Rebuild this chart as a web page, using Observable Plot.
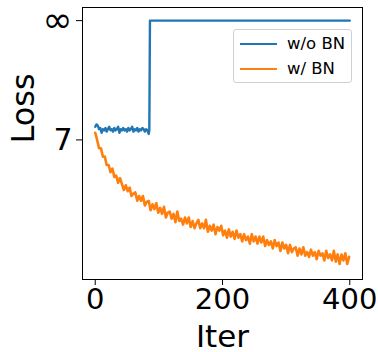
<!DOCTYPE html>
<html>
<head>
<meta charset="utf-8">
<script src="https://cdn.jsdelivr.net/npm/d3@7"></script>
<script src="https://cdn.jsdelivr.net/npm/@observablehq/plot@0.6"></script>
<style>
  html, body { margin: 0; padding: 0; background: #fff; }
  #wrap { position: relative; width: 378px; height: 352px; font-family: "DejaVu Sans", sans-serif; }
  #legend { position: absolute; left: 233px; top: 29px; width: 117px; height: 52px;
    border: 1px solid #d0d0d0; border-radius: 3px; background: rgba(255,255,255,0.85); }
  .item { position: absolute; left: 0; height: 20px; font-size: 16.5px; line-height: 20px; color: #000; }
  .swatch { position: absolute; left: 6px; width: 37px; height: 2px; top: 9px; }
  .lab { position: absolute; left: 53px; top: 0; white-space: nowrap; }
</style>
</head>
<body>
<div id="wrap">
  <div id="chart"></div>
  <div id="legend"></div>
</div>
<script>
// ---- data ----
const seriesNames = ["w/o BN", "w/ BN"];
const seriesColors = ["#1f77b4", "#ff7f0e"];

// w/o BN: iteration and loss (diverges to infinity at ~iter 86)
const blueIter = [0,2,4,6,8,10,12,14,16,18,20,22,24,26,28,30,32,34,36,38,40,42,44,46,48,50,52,54,56,58,60,62,64,66,68,70,72,74,76,78,80,82,84,85,86,400];
const blueLoss = [7.11,7.13,7.12,7.09,7.10,7.06,7.09,7.08,7.10,7.07,7.09,7.11,7.08,7.09,7.07,7.10,7.08,7.09,7.11,7.06,7.09,7.08,7.10,7.08,7.09,7.07,7.10,7.08,7.09,7.11,7.07,7.09,7.08,7.10,7.07,7.09,7.08,7.10,7.09,7.07,7.09,7.08,7.05,7.08,Infinity,Infinity];

// w/ BN: loss every 3 iterations
const orangeStep = 3;
const orangeLoss = [
  7.06,7.00,6.93,6.93,6.86,6.86,6.79,6.79,6.73,6.76,
  6.69,6.70,6.64,6.68,6.63,6.58,6.62,6.57,6.60,6.53,
  6.55,6.56,6.49,6.53,6.49,6.53,6.45,6.48,6.49,6.41,
  6.46,6.42,6.47,6.39,6.43,6.38,6.44,6.35,6.39,6.40,
  6.34,6.38,6.31,6.40,6.32,6.34,6.29,6.35,6.30,6.35,
  6.27,6.32,6.26,6.30,6.33,6.26,6.30,6.26,6.33,6.23,
  6.28,6.24,6.29,6.21,6.27,6.24,6.28,6.20,6.24,6.18,
  6.25,6.19,6.23,6.17,6.24,6.18,6.21,6.15,6.21,6.16,
  6.19,6.13,6.21,6.15,6.19,6.13,6.19,6.14,6.19,6.11,
  6.16,6.12,6.15,6.09,6.16,6.11,6.14,6.07,6.14,6.09,
  6.12,6.05,6.12,6.06,6.09,6.10,6.03,6.09,6.04,6.10,
  6.03,6.06,6.02,6.08,6.03,6.06,6.00,6.07,6.03,6.05,
  5.99,6.07,6.01,6.04,5.99,6.07,5.98,6.04,5.96,6.04,
  5.99,6.05,5.96,6.02
];

const xTicks = [0, 200, 400];
const yTicks = [7, 8];
const yTickLabels = ["7", "∞"];
const INF_POS = 8; // where "∞" sits on the y axis
const xLabel = "Iter";
const yLabel = "Loss";

// ---- tables ----
const blue = blueIter.map((it, i) => ({iter: it, loss: isFinite(blueLoss[i]) ? blueLoss[i] : INF_POS}));
const orange = orangeLoss.map((v, i) => ({iter: i * orangeStep, loss: v}));

const chart = Plot.plot({
  width: 378,
  height: 352,
  marginLeft: 82,
  marginRight: 16,
  marginTop: 7,
  marginBottom: 73,
  style: {fontFamily: "DejaVu Sans, sans-serif", fontSize: "30px", color: "#000", background: "#fff"},
  x: {domain: [-20, 420]},
  y: {domain: [5.83, 8.11]},
  marks: [
    Plot.line(blue, {x: "iter", y: "loss", stroke: seriesColors[0], strokeWidth: 2.4}),
    Plot.line(orange, {x: "iter", y: "loss", stroke: seriesColors[1], strokeWidth: 2.6}),
    Plot.frame({stroke: "#000", strokeWidth: 1}),
    Plot.axisX({ticks: xTicks, tickSize: 6, tickPadding: 3, label: null, fontSize: 29}),
    Plot.axisY({ticks: yTicks, tickFormat: d => yTickLabels[yTicks.indexOf(d)], tickSize: 6, tickPadding: 4, label: null, fontSize: 30}),
    Plot.text([xLabel], {text: d => d, frameAnchor: "bottom", dy: 67, lineAnchor: "bottom", fontSize: 31}),
    Plot.text([yLabel], {text: d => d, frameAnchor: "left", dx: -49, rotate: -90, lineAnchor: "bottom", fontSize: 32})
  ]
});
document.getElementById("chart").appendChild(chart);

// enlarge the infinity glyph like matplotlib's mathtext
d3.select(chart).selectAll("text").filter(function() { return this.textContent === "∞"; })
  .attr("font-size", 36);

// legend
const leg = document.getElementById("legend");
seriesNames.forEach((name, i) => {
  const item = document.createElement("div");
  item.className = "item";
  item.style.top = (4 + i * 25) + "px";
  item.style.width = "100%";
  item.innerHTML = `<div class="swatch" style="background:${seriesColors[i]}"></div><div class="lab">${name}</div>`;
  leg.appendChild(item);
});
</script>
</body>
</html>
